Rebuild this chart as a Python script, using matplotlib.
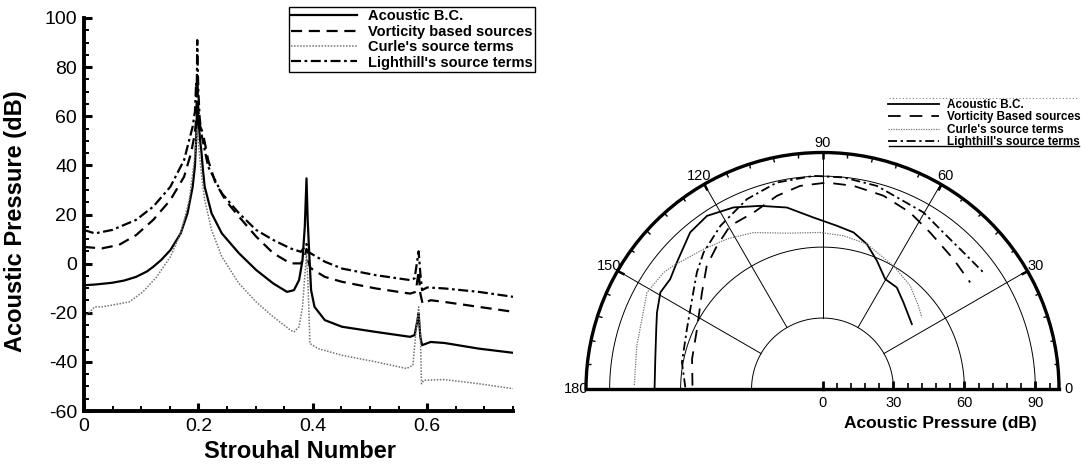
import numpy as np
import matplotlib
matplotlib.use("Agg")
import matplotlib.pyplot as plt
from matplotlib.lines import Line2D

plt.rcParams['font.family'] = ['Liberation Sans', 'DejaVu Sans']
plt.rcParams['axes.unicode_minus'] = False

## spectrum data (Strouhal number, dB)
st_acoustic = [0, 0.02, 0.049, 0.07, 0.091, 0.11, 0.121, 0.135, 0.151, 0.169, 0.181, 0.19, 0.194,
               0.196, 0.197, 0.198, 0.1995, 0.201, 0.203, 0.205, 0.208, 0.211, 0.223, 0.241, 0.271,
               0.301, 0.331, 0.355, 0.367, 0.376, 0.382, 0.386, 0.389, 0.391, 0.394, 0.397, 0.403,
               0.421, 0.451, 0.51, 0.57, 0.578, 0.583, 0.585, 0.588, 0.591, 0.606, 0.63, 0.69, 0.75]
db_acoustic = [-8.8, -8.5, -7.8, -6.9, -5.4, -3.2, -1.3, 1.5, 5.5, 12.3, 20.5, 31.3, 40,
               50, 58, 66, 60, 56, 50, 46.3, 38, 31.3, 20.5, 12.3, 4.2,
               -2.6, -8.1, -11.5, -10.8, -6.7, 1.4, 15, 34.7, 18, 3, -10.8, -17.6,
               -23.0, -25.7, -27.8, -29.8, -29.1, -23.0, -20.3, -29.8, -33.2, -31.9, -32.3, -34.6, -36.3]

st_vorticity = [0, 0.031, 0.061, 0.091, 0.121, 0.151, 0.175, 0.187, 0.193, 0.196, 0.198, 0.2,
                0.203, 0.208, 0.217, 0.229, 0.247, 0.271, 0.301, 0.331, 0.361, 0.379, 0.386,
                0.389, 0.392, 0.396, 0.421, 0.451, 0.51, 0.57, 0.58, 0.585, 0.588, 0.592,
                0.606, 0.63, 0.69, 0.75]
db_vorticity = [6.8, 6.2, 7.6, 11.6, 17.8, 25.9, 35.4, 44.9, 52, 58, 74, 62,
                56, 53.1, 42.2, 33.4, 25.9, 19.1, 11.0, 4.2, 0.1, 0.1, 2.8,
                6, 1, -1.8, -5.4, -7.4, -10.1, -12.2, -11.5, -3, -12.2, -16.3,
                -14.9, -15.6, -17.6, -19.6]

st_curle = [0, 0.007, 0.019, 0.031, 0.049, 0.079, 0.103, 0.127, 0.151, 0.169, 0.184, 0.193,
            0.198, 0.202, 0.206, 0.211, 0.223, 0.241, 0.271, 0.301, 0.331, 0.361, 0.367,
            0.376, 0.382, 0.386, 0.389, 0.392, 0.395, 0.409, 0.451, 0.51, 0.564, 0.575,
            0.58, 0.585, 0.588, 0.59, 0.594, 0.63, 0.69, 0.75]
db_curle = [-21.7, -20.3, -17.6, -17.6, -16.9, -15.6, -11.5, -5.4, 2.8, 12.3, 25.9, 42.2,
            55, 44, 35, 25.9, 13.7, 2.8, -8.1, -15.6, -21.7, -27.1, -27.8,
            -25.7, -17.6, -5, 4, -10.8, -32.5, -34.6, -37.3, -40.0, -42.7, -41.4,
            -28.5, -17.6, -28.5, -48.9, -47.5, -47.2, -48.9, -50.9]

st_lighthill = [0, 0.019, 0.049, 0.091, 0.121, 0.151, 0.175, 0.19, 0.194, 0.196, 0.197, 0.198,
                0.199, 0.2, 0.202, 0.205, 0.217, 0.241, 0.271, 0.301, 0.331, 0.361, 0.379,
                0.386, 0.389, 0.392, 0.421, 0.451, 0.51, 0.57, 0.578, 0.585, 0.588, 0.591,
                0.6, 0.63, 0.69, 0.75]
db_lighthill = [13.7, 12.3, 13.7, 17.8, 23.2, 31.3, 42.2, 55.8, 62, 73.5, 68, 91,
                78, 70, 60, 53.1, 39.5, 28.6, 20.5, 13.7, 9.6, 6.2, 4.8,
                6.9, 8, 4.8, 0.8, -2.0, -4.7, -6.7, -6.0, 5, -4, -10.8,
                -9.7, -10.1, -11.5, -13.5]

## directivity data (angle deg, dB)
th_acoustic = [179.4, 170, 160, 155.2, 149.2, 144.2, 139, 130.2, 123.7, 116.1, 108.8, 101.1,
               93, 85, 78.8, 73, 67, 60.3, 53.8, 46.9, 36.0]
r_acoustic = [71, 71.8, 74.8, 77.1, 79.8, 79.4, 81.6, 86.7, 88, 85.5, 81.8, 78.2,
              72.6, 69.3, 67.5, 64.1, 58.9, 53.5, 53.2, 50.1, 46.7]

th_vorticity = [178.5, 167, 154.5, 141.3, 133.2, 126.4, 119.5, 111.3, 103.3, 96.3, 88.8, 81.3,
                72.5, 63.6, 55.5, 44.8, 35.8]
r_vorticity = [55, 56.6, 58.8, 65.3, 71.5, 75.2, 79.3, 80.1, 83.9, 86.4, 87.3, 86.9,
               85.7, 83.3, 80.3, 78, 77]

th_curle = [178.8, 166.9, 151.2, 143.7, 140.4, 130.4, 122.5, 113.8, 102.9, 90.9, 82.2, 73,
            60.1, 49.7, 41, 35.8]
r_curle = [79.6, 80.6, 84.7, 83.3, 81.8, 77.6, 75.2, 72.3, 67.6, 66.2, 65.4, 64.1,
           60.1, 57.3, 53.7, 51.8]

th_lighthill = [179.3, 169.3, 156.1, 145.4, 137.1, 131, 122, 111.7, 102.5, 92.4, 84.3, 75,
                60.2, 52.3, 44.1, 35.9]
r_lighthill = [58, 60.5, 62.7, 67, 72.5, 76.6, 81.4, 86.4, 89.4, 90.2, 89.9, 88.9,
               86, 83.6, 83, 84]

labels_left = ["Acoustic B.C.", "Vorticity based sources", "Curle's source terms",
               "Lighthill's source terms"]
labels_right = ["Acoustic B.C.", "Vorticity Based sources", "Curle's source terms",
                "Lighthill's source terms"]

fig = plt.figure(figsize=(10.81, 4.65), dpi=100)
W, H = 1081., 465.

# ---- left: spectrum ----
ax = fig.add_axes([84/W, 1-411/H, (513-84)/W, (411-18)/H])
dash = (0, (5, 3))
dashdot = (0, (4.5, 1.6, 1.2, 1.6))
l1, = ax.plot(st_acoustic, db_acoustic, color='k', lw=1.6)
l2, = ax.plot(st_vorticity, db_vorticity, color='k', lw=1.6, ls=dash)
l3, = ax.plot(st_curle, db_curle, color='0.45', lw=1.1, ls=(0, (1, 1)))
l4, = ax.plot(st_lighthill, db_lighthill, color='k', lw=1.6, ls=dashdot)

ax.set_xlim(0, 0.75)
ax.set_ylim(-60, 100)
ax.set_xticks([0, 0.2, 0.4, 0.6])
ax.set_xticklabels(['0', '0.2', '0.4', '0.6'])
ax.set_xticks(np.arange(0, 0.751, 0.05), minor=True)
ax.set_yticks(np.arange(-60, 101, 20))
ax.set_yticks(np.arange(-60, 101, 5), minor=True)
for s in ['top', 'right']:
    ax.spines[s].set_visible(False)
for s in ['left', 'bottom']:
    ax.spines[s].set_linewidth(2.8)
ax.tick_params(which='major', direction='in', length=6, width=2.2, labelsize=14, pad=5)
ax.tick_params(which='minor', direction='in', length=3.5, width=1.4)

fig.text(16/W, 1-221/H, "Acoustic Pressure (dB)", rotation=90, ha='center', va='center',
         fontsize=17, fontweight='bold')
fig.text(300/W, 1-451/H, "Strouhal Number", ha='center', va='center',
         fontsize=17, fontweight='bold')

leg = fig.legend([l1, l2, l3, l4], labels_left, loc='upper left',
                 bbox_to_anchor=(289/W, 1-7/H), borderaxespad=0, borderpad=0.15,
                 prop={'weight': 'bold', 'size': 10.5}, handlelength=4.5,
                 handletextpad=0.8, labelspacing=0.1, fancybox=False,
                 edgecolor='k', framealpha=1)
leg.get_frame().set_linewidth(1.0)

# ---- right: directivity ----
# polar half-disc is fitted into a square box, so give it a square rect
cx, cy, R = 822.5, 389.0, 236.5
ax2 = fig.add_axes([(cx-R)/W, 1-(cy-R/2+R)/H, 2*R/W, 2*R/H], projection='polar')
ax2.set_thetamin(0)
ax2.set_thetamax(180)
ax2.set_ylim(0, 100)
ax2.grid(False)

th = np.linspace(0, np.pi, 300)
for rr in [30, 60, 90]:
    ax2.plot(th, np.full_like(th, rr), color='k', lw=0.7)
for a in [30, 60, 90, 120, 150]:
    ax2.plot([np.deg2rad(a)] * 2, [30, 100], color='k', lw=0.7)

p1, = ax2.plot(np.deg2rad(th_acoustic), r_acoustic, color='k', lw=1.3)
p2, = ax2.plot(np.deg2rad(th_vorticity), r_vorticity, color='k', lw=1.3, ls=(0, (7, 5)))
p3, = ax2.plot(np.deg2rad(th_curle), r_curle, color='0.45', lw=0.9, ls=(0, (1, 1)))
p4, = ax2.plot(np.deg2rad(th_lighthill), r_lighthill, color='k', lw=1.3, ls=(0, (5, 2, 1.3, 2)))

ax2.spines['polar'].set_linewidth(2.4)
ax2.spines['start'].set_linewidth(2.4)
ax2.spines['end'].set_linewidth(2.4)
ax2.spines['inner'].set_visible(False)

ax2.set_xticks(np.deg2rad([0, 30, 60, 90, 120, 150, 180]))
ax2.set_xticklabels(['0', '30', '60', '90', '120', '150', '180'])
ax2.set_xticks(np.deg2rad(np.arange(0, 181, 6)), minor=True)
ax2.tick_params(axis='x', which='both', bottom=False, top=True)
ax2.tick_params(axis='x', which='major', direction='in', length=5, width=1.8, pad=0, labelsize=10.5)
ax2.tick_params(axis='x', which='minor', direction='in', length=3, width=1)
ax2.set_yticks([])

# radial scale along the base line (right half only)
ax3 = fig.add_axes([(cx-R)/W, 1-cy/H, 2*R/W, 0.04])
ax3.set_zorder(5)
ax3.set_xlim(-100, 100)
ax3.set_ylim(0, 1)
ax3.patch.set_visible(False)
for s in ax3.spines.values():
    s.set_visible(False)
ax3.set_yticks([])
ax3.set_xticks([0, 30, 60, 90])
ax3.set_xticks(np.arange(0, 101, 6), minor=True)
ax3.xaxis.set_ticks_position('bottom')
ax3.tick_params(axis='x', which='major', direction='in', length=6, width=2.0, labelsize=10.5,
                pad=5, color='k')
ax3.tick_params(axis='x', which='minor', direction='in', length=4, width=1.2, color='k')

fig.text(940/W, 1-423/H, "Acoustic Pressure (dB)", ha='center', va='center',
         fontsize=12.5, fontweight='bold')

leg2 = fig.legend([p1, p2, p3, p4], labels_right, loc='upper left',
                  bbox_to_anchor=(887/W, 1-98/H), borderaxespad=0, borderpad=0.1,
                  prop={'weight': 'bold', 'size': 8.5}, handlelength=4.3,
                  handletextpad=0.7, labelspacing=0.02, frameon=False)
fig.add_artist(Line2D([889/W, 1079/W], [1-98/H, 1-98/H], color='0.5', lw=0.8, ls=(0, (1, 2))))
fig.add_artist(Line2D([889/W, 1079/W], [1-145.5/H, 1-145.5/H], color='k', lw=1.0))

fig.savefig("out.png", dpi=100)
